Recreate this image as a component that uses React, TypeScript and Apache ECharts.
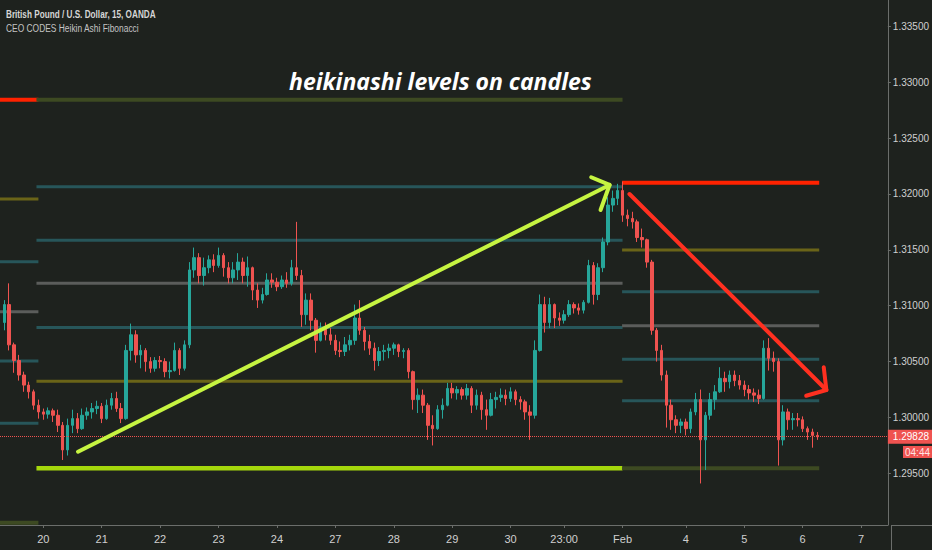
import React, { useEffect, useRef } from "react";
import * as echarts from "echarts";

// ---- axis ticks ----
const dayTickIndex = [8, 20, 32, 44, 56, 68, 80, 92, 104, 115, 127, 140, 152, 164, 176];
const dayTickLabels = ["20", "21", "22", "23", "24", "27", "28", "29", "30", "23:00", "Feb", "4", "5", "6", "7"];
const priceTicks = [1.295, 1.3, 1.305, 1.31, 1.315, 1.32, 1.325, 1.33, 1.335];

// ---- GBPUSD candles (2h buckets) ----
const opens = [
  1.3085, 1.3101, 1.3065, 1.3051, 1.3038, 1.3029, 1.3023, 1.3011, 1.3005, 1.3003,
  1.3006, 1.3002, 1.2993, 1.2971, 1.2993, 1.2999, 1.2990, 1.3002, 1.3005, 1.3008,
  1.3010, 1.2999, 1.3011, 1.3017, 1.3008, 1.2999, 1.3060, 1.3074, 1.3056, 1.3060,
  1.3050, 1.3044, 1.3051, 1.3050, 1.3041, 1.3042, 1.3060, 1.3044, 1.3065, 1.3132,
  1.3143, 1.3127, 1.3134, 1.3141, 1.3136, 1.3145, 1.3134, 1.3125, 1.3132, 1.3139,
  1.3127, 1.3134, 1.3114, 1.3105, 1.3110, 1.3123, 1.3121, 1.3117, 1.3123, 1.3120,
  1.3134, 1.3127, 1.3092, 1.3105, 1.3087, 1.3069, 1.3080, 1.3074, 1.3069, 1.3060,
  1.3059, 1.3065, 1.3069, 1.3089, 1.3078, 1.3068, 1.3062, 1.3051, 1.3059, 1.3060,
  1.3062, 1.3065, 1.3059, 1.3060, 1.3041, 1.3016, 1.3020, 1.3011, 1.2993, 1.2990,
  1.3007, 1.3011, 1.3026, 1.3022, 1.3025, 1.3020, 1.3026, 1.3011, 1.3020, 1.3007,
  1.3002, 1.3016, 1.3018, 1.3020, 1.3017, 1.3023, 1.3016, 1.3014, 1.3005, 1.3002,
  1.3060, 1.3101, 1.3085, 1.3101, 1.3089, 1.3087, 1.3092, 1.3101, 1.3098, 1.3096,
  1.3103, 1.3136, 1.3110, 1.3134, 1.3157, 1.3190, 1.3196, 1.3203, 1.3181, 1.3178,
  1.3175, 1.3161, 1.3159, 1.3139, 1.3078, 1.3060, 1.3038, 1.3011, 1.2998, 1.2993,
  1.2996, 1.2990, 1.3005, 1.3016, 1.2980, 1.3002, 1.3016, 1.3023, 1.3035, 1.3032,
  1.3038, 1.3033, 1.3029, 1.3025, 1.3022, 1.3020, 1.3017, 1.3062, 1.3053, 1.3050,
  1.2980, 1.3005, 1.2998, 1.2999, 1.2998, 1.2990, 1.2987, 1.2984,
];
const closes = [
  1.3101, 1.3065, 1.3051, 1.3038, 1.3029, 1.3023, 1.3011, 1.3005, 1.3003, 1.3006,
  1.3002, 1.2993, 1.2971, 1.2993, 1.2999, 1.2990, 1.3002, 1.3005, 1.3008, 1.3010,
  1.2999, 1.3011, 1.3017, 1.3008, 1.2999, 1.3060, 1.3074, 1.3056, 1.3060, 1.3050,
  1.3044, 1.3051, 1.3050, 1.3041, 1.3042, 1.3060, 1.3044, 1.3065, 1.3132, 1.3143,
  1.3127, 1.3134, 1.3141, 1.3136, 1.3145, 1.3134, 1.3125, 1.3132, 1.3139, 1.3127,
  1.3134, 1.3114, 1.3105, 1.3110, 1.3123, 1.3121, 1.3117, 1.3123, 1.3120, 1.3134,
  1.3127, 1.3092, 1.3105, 1.3087, 1.3069, 1.3080, 1.3074, 1.3069, 1.3060, 1.3059,
  1.3065, 1.3069, 1.3089, 1.3078, 1.3068, 1.3062, 1.3051, 1.3059, 1.3060, 1.3062,
  1.3065, 1.3059, 1.3060, 1.3041, 1.3016, 1.3020, 1.3011, 1.2993, 1.2990, 1.3007,
  1.3011, 1.3026, 1.3022, 1.3025, 1.3020, 1.3026, 1.3011, 1.3020, 1.3007, 1.3002,
  1.3016, 1.3018, 1.3020, 1.3017, 1.3023, 1.3016, 1.3014, 1.3005, 1.3002, 1.3060,
  1.3101, 1.3085, 1.3101, 1.3089, 1.3087, 1.3092, 1.3101, 1.3098, 1.3096, 1.3103,
  1.3136, 1.3110, 1.3134, 1.3157, 1.3190, 1.3196, 1.3203, 1.3181, 1.3178, 1.3175,
  1.3161, 1.3159, 1.3139, 1.3078, 1.3060, 1.3038, 1.3011, 1.2998, 1.2993, 1.2996,
  1.2990, 1.3005, 1.3016, 1.2980, 1.3002, 1.3016, 1.3023, 1.3035, 1.3032, 1.3038,
  1.3033, 1.3029, 1.3025, 1.3022, 1.3020, 1.3017, 1.3062, 1.3053, 1.3050, 1.2980,
  1.3005, 1.2998, 1.2999, 1.2998, 1.2990, 1.2987, 1.2984, 1.29828,
];
const lows = [
  1.3078, 1.3060, 1.3040, 1.3033, 1.3023, 1.3017, 1.3007, 1.2999, 1.2998, 1.2999,
  1.2996, 1.2987, 1.2962, 1.2966, 1.2986, 1.2986, 1.2989, 1.2998, 1.2999, 1.3003,
  1.2995, 1.2998, 1.3007, 1.3005, 1.2995, 1.2998, 1.3051, 1.3049, 1.3044, 1.3041,
  1.3040, 1.3041, 1.3044, 1.3036, 1.3035, 1.3041, 1.3038, 1.3042, 1.3062, 1.3125,
  1.3120, 1.3118, 1.3129, 1.3130, 1.3134, 1.3126, 1.3120, 1.3120, 1.3123, 1.3120,
  1.3117, 1.3105, 1.3098, 1.3102, 1.3109, 1.3116, 1.3113, 1.3115, 1.3116, 1.3118,
  1.3123, 1.3081, 1.3083, 1.3078, 1.3058, 1.3068, 1.3069, 1.3065, 1.3056, 1.3054,
  1.3055, 1.3060, 1.3065, 1.3074, 1.3060, 1.3056, 1.3042, 1.3046, 1.3051, 1.3053,
  1.3056, 1.3054, 1.3053, 1.3035, 1.3007, 1.3004, 1.3004, 1.2980, 1.2975, 1.2989,
  1.2999, 1.3010, 1.3017, 1.3016, 1.3016, 1.3016, 1.3004, 1.3007, 1.2998, 1.2989,
  1.3001, 1.3008, 1.3014, 1.3011, 1.3014, 1.3011, 1.3007, 1.2998, 1.2980, 1.2999,
  1.3059, 1.3076, 1.3080, 1.3080, 1.3082, 1.3084, 1.3090, 1.3093, 1.3092, 1.3093,
  1.3102, 1.3101, 1.3105, 1.3130, 1.3154, 1.3184, 1.3190, 1.3175, 1.3171, 1.3169,
  1.3157, 1.3152, 1.3134, 1.3074, 1.3050, 1.3033, 1.2991, 1.2989, 1.2986, 1.2986,
  1.2984, 1.2986, 1.3002, 1.2941, 1.2953, 1.2998, 1.3007, 1.3022, 1.3023, 1.3026,
  1.3028, 1.3025, 1.3019, 1.3016, 1.3014, 1.3012, 1.3016, 1.3042, 1.3041, 1.2957,
  1.2975, 1.2989, 1.2989, 1.2992, 1.2987, 1.2980, 1.2973, 1.2980,
];
const highs = [
  1.3105, 1.3120, 1.3067, 1.3056, 1.3041, 1.3032, 1.3025, 1.3016, 1.3008, 1.3009,
  1.3008, 1.3007, 1.2996, 1.2999, 1.3007, 1.3004, 1.3008, 1.3009, 1.3013, 1.3015,
  1.3013, 1.3016, 1.3022, 1.3023, 1.3013, 1.3065, 1.3084, 1.3078, 1.3065, 1.3062,
  1.3054, 1.3054, 1.3055, 1.3053, 1.3050, 1.3067, 1.3062, 1.3069, 1.3139, 1.3152,
  1.3147, 1.3143, 1.3145, 1.3146, 1.3152, 1.3147, 1.3139, 1.3139, 1.3147, 1.3143,
  1.3144, 1.3135, 1.3120, 1.3116, 1.3129, 1.3129, 1.3125, 1.3127, 1.3130, 1.3141,
  1.3175, 1.3132, 1.3111, 1.3111, 1.3089, 1.3085, 1.3085, 1.3080, 1.3074, 1.3068,
  1.3072, 1.3074, 1.3101, 1.3105, 1.3081, 1.3074, 1.3067, 1.3063, 1.3065, 1.3066,
  1.3067, 1.3066, 1.3062, 1.3062, 1.3042, 1.3026, 1.3025, 1.3013, 1.3002, 1.3011,
  1.3017, 1.3031, 1.3031, 1.3028, 1.3027, 1.3030, 1.3028, 1.3025, 1.3023, 1.3016,
  1.3022, 1.3023, 1.3026, 1.3025, 1.3027, 1.3025, 1.3019, 1.3016, 1.3011, 1.3069,
  1.3110, 1.3108, 1.3107, 1.3102, 1.3094, 1.3096, 1.3105, 1.3103, 1.3102, 1.3105,
  1.3141, 1.3139, 1.3138, 1.3161, 1.3197, 1.3203, 1.3209, 1.3211, 1.3186, 1.3184,
  1.3177, 1.3169, 1.3160, 1.3141, 1.3080, 1.3065, 1.3042, 1.3016, 1.3002, 1.2999,
  1.2999, 1.3008, 1.3022, 1.3025, 1.3005, 1.3022, 1.3029, 1.3045, 1.3041, 1.3042,
  1.3042, 1.3038, 1.3033, 1.3029, 1.3026, 1.3025, 1.3069, 1.3071, 1.3059, 1.3053,
  1.3011, 1.3008, 1.3004, 1.3004, 1.3001, 1.2992, 1.2990, 1.2987,
];
const lastPrice = 1.29828;
const countdown = "04:44";

// ---- Heikin Ashi Fibonacci level blocks ----
const leftLevels = [1.32843, 1.31954, 1.31394, 1.30946, 1.30505, 1.29948, 1.29059];
const leftKinds = ["red", "olive", "teal", "gray", "teal", "teal", "dark"];
const leftSpan = [-0.89, 7.0];
const midLevels = [1.32843, 1.32064, 1.31585, 1.312, 1.30805, 1.30325, 1.29546];
const midKinds = ["dark", "teal", "teal", "gray", "teal", "olive", "lime"];
const midSpan = [6.6, 127.0];
const rightLevels = [1.321, 1.31498, 1.31125, 1.30821, 1.30521, 1.3015, 1.29546];
const rightKinds = ["red", "olive", "teal", "gray", "teal", "teal", "dark"];
const rightSpan = [126.9, 167.4];

// ---- drawn trend arrows (bar index, price) ----
const upTrend = [[15.14, 1.29694], [124.33, 1.3208]];
const upHead = [[120.56, 1.32149], [124.33, 1.3208], [122.48, 1.31856]];
const downTrend = [[128.42, 1.31999], [168.87, 1.30246]];
const downHead = [[168.33, 1.30449], [168.87, 1.30246], [164.72, 1.30195]];

const BG = "#1e221e";
const AXIS = "#6b6e6b";
const TXT = "#d0d0d0";
const SANS = "'Liberation Sans', Arial, sans-serif";
const kindStyle: Record<string, { color: string; width: number }> = {
  red: { color: "#ff2200", width: 4 },
  olive: { color: "#6a6418", width: 3 },
  teal: { color: "#27565a", width: 3 },
  gray: { color: "#5b5d5b", width: 3 },
  dark: { color: "#3d4a22", width: 4 },
  lime: { color: "#a5d80c", width: 4.5 },
};

export default function App() {
  const ref = useRef<HTMLDivElement>(null);
  useEffect(() => {
    if (!ref.current) return;
    const chart = echarts.init(ref.current, undefined, { renderer: "svg" });

    const levelSeries: any[] = [];
    const addBlock = (levels: number[], kinds: string[], span: number[]) => {
      levels.forEach((p, k) => {
        const st = kindStyle[kinds[k]];
        levelSeries.push({
          type: "line",
          data: [[span[0], p], [span[1], p]],
          showSymbol: false,
          symbol: "none",
          silent: true,
          z: 1,
          lineStyle: { color: st.color, width: st.width, cap: "butt" },
        });
      });
    };
    addBlock(leftLevels, leftKinds, leftSpan);
    addBlock(midLevels, midKinds, midSpan);
    addBlock(rightLevels, rightKinds, rightSpan);

    const candleData = opens.map((o, i) => [i, o, closes[i], lows[i], highs[i]]);

    const arrow = (data: number[][], color: string) => ({
      type: "line",
      data,
      showSymbol: false,
      symbol: "none",
      silent: true,
      z: 5,
      lineStyle: { color, width: 4, cap: "round", join: "round" },
    });

    chart.setOption({
      animation: false,
      backgroundColor: BG,
      grid: { left: 0, right: 41, top: 0, bottom: 25, containLabel: false },
      xAxis: {
        type: "value",
        min: -0.89,
        max: 181.5,
        splitLine: { show: false },
        axisLine: { show: true, onZero: false, lineStyle: { color: AXIS, width: 1 } },
        axisTick: { show: true, customValues: dayTickIndex, length: 3, lineStyle: { color: AXIS } },
        axisLabel: {
          customValues: dayTickIndex,
          formatter: (v: number) => {
            const k = dayTickIndex.indexOf(Math.round(v));
            return k >= 0 ? dayTickLabels[k] : "";
          },
          color: TXT,
          fontSize: 11,
          fontFamily: SANS,
          margin: 8,
        },
      },
      yAxis: {
        type: "value",
        position: "right",
        min: 1.290385,
        max: 1.337344,
        splitLine: { show: false },
        axisLine: { show: true, onZero: false, lineStyle: { color: AXIS, width: 1 } },
        axisTick: { show: true, customValues: priceTicks, length: 3, lineStyle: { color: AXIS } },
        axisLabel: {
          customValues: priceTicks,
          formatter: (v: number) => v.toFixed(5),
          color: TXT,
          fontSize: 10,
          fontFamily: SANS,
          margin: 5,
        },
      },
      series: [
        ...levelSeries,
        {
          type: "candlestick",
          data: candleData,
          encode: { x: 0, y: [1, 2, 3, 4] },
          barWidth: 3,
          z: 2,
          silent: true,
          itemStyle: {
            color: "#26a69a",
            color0: "#ef5350",
            borderColor: "#26a69a",
            borderColor0: "#ef5350",
            borderWidth: 1,
          },
          markLine: {
            silent: true,
            precision: 5,
            symbol: ["none", "none"],
            lineStyle: { color: "#ef5350", type: "dotted", width: 1 },
            label: {
              show: true,
              position: "end",
              distance: 0,
              formatter: lastPrice.toFixed(5),
              backgroundColor: "#ef5350",
              color: "#ffffff",
              padding: [2, 4, 2, 5],
              fontSize: 10,
              fontFamily: SANS,
            },
            data: [{ yAxis: lastPrice }],
          },
        },
        arrow(upTrend, "#c6f441"),
        arrow(upHead, "#c6f441"),
        arrow(downTrend, "#ff3020"),
        arrow(downHead, "#ff3020"),
      ],
      graphic: [
        {
          type: "line",
          silent: true,
          shape: { x1: 891.5, y1: 525, x2: 891.5, y2: 550 },
          style: { stroke: AXIS, lineWidth: 1 },
        },
        {
          type: "line",
          silent: true,
          shape: { x1: 891, y1: 525.5, x2: 932, y2: 525.5 },
          style: { stroke: AXIS, lineWidth: 1 },
        },
        {
          type: "text",
          x: 6,
          y: 9,
          scaleX: 0.745,
          style: {
            text: "British Pound / U.S. Dollar, 15, OANDA",
            fill: "#d6d6d6",
            font: `bold 11px ${SANS}`,
          },
        },
        {
          type: "text",
          x: 6,
          y: 23,
          scaleX: 0.765,
          style: {
            text: "CEO CODES Heikin Ashi Fibonacci",
            fill: "#c4c4c4",
            font: `11px ${SANS}`,
          },
        },
        {
          type: "text",
          x: 289,
          y: 69,
          style: {
            text: "heikinashi levels on candles",
            fill: "#ffffff",
            font: "italic bold 23px 'Open Sans', sans-serif",
          },
        },
        {
          type: "group",
          silent: true,
          children: [
            { type: "rect", shape: { x: 903, y: 446, width: 29, height: 12 }, style: { fill: "#ef5350" } },
            {
              type: "text",
              x: 917.5,
              y: 452,
              style: {
                text: countdown,
                fill: "#ffe4e4",
                font: `10px ${SANS}`,
                textAlign: "center",
                textVerticalAlign: "middle",
              },
            },
          ],
        },
      ],
    });
    return () => chart.dispose();
  }, []);
  return (
    <div
      ref={ref}
      style={{ position: "fixed", left: 0, top: 0, width: 932, height: 550, background: BG }}
    />
  );
}
